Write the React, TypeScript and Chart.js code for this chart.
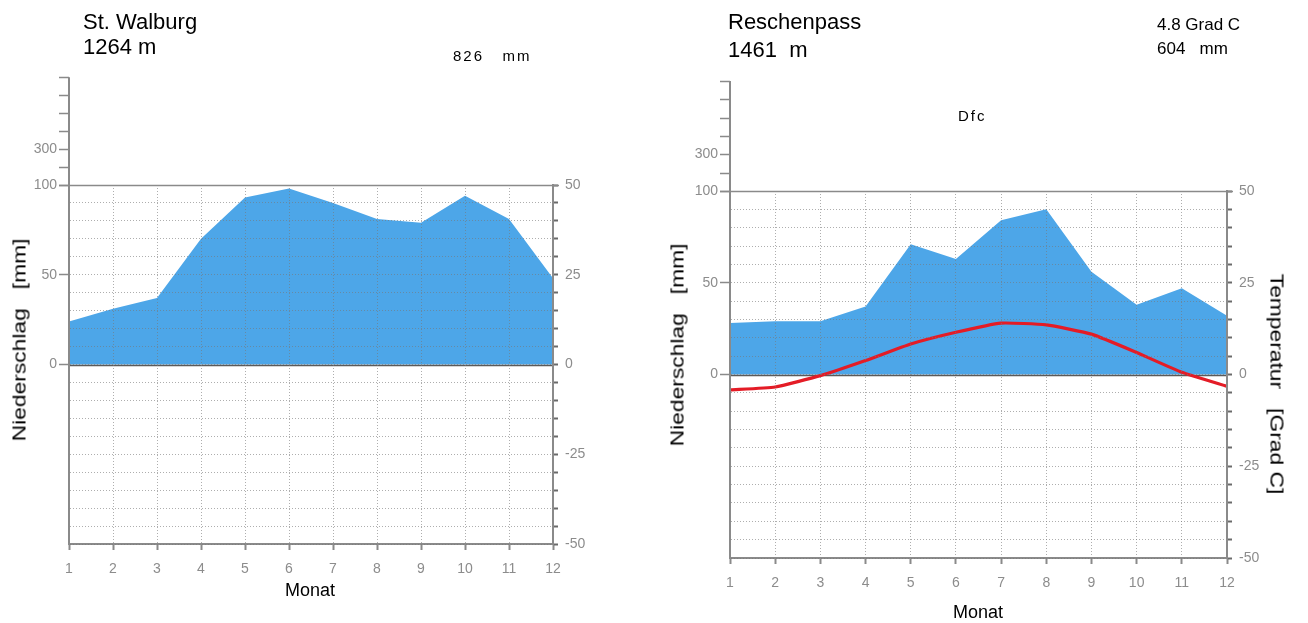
import React, { useEffect, useRef } from 'react';
import { Chart, registerables } from 'chart.js';

Chart.register(...registerables);

// ---- data ----
const months = [1, 2, 3, 4, 5, 6, 7, 8, 9, 10, 11, 12];
const walburgPrecip = [24, 31, 37, 70, 93, 98, 90, 81, 79, 94, 81, 48];
const reschenPrecip = [28, 29, 29, 37, 71, 63, 84, 90, 56, 38, 47, 32];
const reschenTemp = [-4.2, -3.4, -0.3, 3.8, 8.3, 11.5, 14.0, 13.5, 11.0, 6.0, 0.6, -3.2];
const precipTickLabels = [0, 50, 100];
const tempTickLabels = [-50, -25, 0, 25, 50];
const upperTicks = [200, 300, 400, 500, 600, 700];
const upperTickLabels = [300];

const FILL = 'rgb(77,166,232)';
const RED = 'rgb(228,28,38)';
const AXIS = '#8a8a8a';
const GRID = 'rgba(120,120,120,0.6)';
const TICKTXT = '#8c8c8c';
const FONT = "'Liberation Sans', Arial, sans-serif";

type Area = { left: number; right: number; top: number; bottom: number };

const decorPlugin = {
  id: 'decor',
  afterDatasetDraw(chart: any, args: any) {
    if (args.index !== 0) return;
    const ctx = chart.ctx;
    const y = chart.scales.y;
    const ca = chart.chartArea;
    ctx.save();
    const y0 = Math.round(y.getPixelForValue(0)) + 0.5;
    ctx.strokeStyle = '#5a5a5a';
    ctx.lineWidth = 1.5;
    ctx.beginPath();
    ctx.moveTo(ca.left, y0);
    ctx.lineTo(ca.right, y0);
    ctx.stroke();
    ctx.restore();
  },
  afterDraw(chart: any) {
    const ctx = chart.ctx;
    const y = chart.scales.y;
    const ca = chart.chartArea;
    ctx.save();
    const yTop = Math.round(y.getPixelForValue(100)) + 0.5;
    ctx.strokeStyle = AXIS;
    ctx.lineWidth = 1.5;
    ctx.beginPath();
    ctx.moveTo(ca.left - 10, yTop);
    ctx.lineTo(ca.right + 6, yTop);
    ctx.stroke();
    // compressed upper axis (100 .. 700 mm at one tenth of the scale)
    const upPix = (v: number) => y.getPixelForValue(100 + (v - 100) / 10);
    const topPix = upPix(upperTicks[upperTicks.length - 1]);
    const xl = Math.round(ca.left);
    ctx.lineWidth = 2;
    ctx.beginPath();
    ctx.moveTo(xl, topPix);
    ctx.lineTo(xl, yTop);
    ctx.stroke();
    ctx.lineWidth = 1.5;
    ctx.fillStyle = TICKTXT;
    ctx.font = `14px ${FONT}`;
    ctx.textAlign = 'right';
    ctx.textBaseline = 'middle';
    for (const v of upperTicks) {
      const py = Math.round(upPix(v)) + 0.5;
      ctx.beginPath();
      ctx.moveTo(xl - 10, py);
      ctx.lineTo(xl, py);
      ctx.stroke();
      if (upperTickLabels.includes(v)) ctx.fillText(String(v), xl - 12, py);
    }
    ctx.restore();
  },
};

function makeConfig(precip: number[], temp: number[] | null, area: Area, w: number, h: number): any {
  const leftW = area.left;
  const rightW = 40;
  const bottomH = 40;
  const datasets: any[] = [
    {
      label: 'Niederschlag',
      data: months.map((m, i) => ({ x: m, y: precip[i] })),
      yAxisID: 'y',
      borderWidth: 0,
      borderColor: FILL,
      backgroundColor: FILL,
      fill: 'origin',
      pointRadius: 0,
      tension: 0,
      order: 2,
    },
  ];
  if (temp) {
    datasets.push({
      label: 'Temperatur',
      data: months.map((m, i) => ({ x: m, y: temp[i] })),
      yAxisID: 'yT',
      borderWidth: 3.2,
      borderColor: RED,
      fill: false,
      pointRadius: 0,
      tension: 0.15,
      order: 1,
    });
  }
  return {
    type: 'line',
    data: { datasets },
    plugins: [decorPlugin],
    options: {
      responsive: false,
      animation: false,
      events: [],
      layout: {
        padding: {
          left: 0,
          top: area.top,
          right: w - area.right - rightW,
          bottom: h - area.bottom - bottomH,
        },
      },
      plugins: { legend: { display: false }, tooltip: { enabled: false }, title: { display: false } },
      scales: {
        x: {
          type: 'linear',
          position: 'bottom',
          min: 1,
          max: 12,
          afterFit: (s: any) => { s.height = bottomH; },
          ticks: { stepSize: 1, autoSkip: false, color: TICKTXT, font: { family: FONT, size: 14 }, padding: 11, maxRotation: 0 },
          grid: { color: GRID, lineWidth: 1, z: 1, tickLength: 6, tickColor: AXIS, tickWidth: 2 },
          border: { display: true, color: AXIS, width: 2, dash: [1, 2], z: 1 },
        },
        y: {
          type: 'linear',
          position: 'left',
          min: -100,
          max: 100,
          afterFit: (s: any) => { s.width = leftW; },
          ticks: {
            stepSize: 10,
            autoSkip: false,
            color: TICKTXT,
            font: { family: FONT, size: 14 },
            padding: 2,
            callback: (v: number) => (precipTickLabels.includes(v) ? String(v) : ''),
          },
          grid: {
            color: GRID,
            lineWidth: 1,
            z: 1,
            tickLength: 10,
            tickWidth: 1.5,
            tickColor: (c: any) => (c.tick && precipTickLabels.includes(c.tick.value) ? AXIS : 'rgba(0,0,0,0)'),
          },
          border: { display: true, color: AXIS, width: 2, dash: [1, 2], z: 1 },
        },
        yT: {
          type: 'linear',
          position: 'right',
          min: -50,
          max: 50,
          afterFit: (s: any) => { s.width = rightW; },
          ticks: {
            stepSize: 5,
            autoSkip: false,
            color: TICKTXT,
            font: { family: FONT, size: 14 },
            padding: 7,
            callback: (v: number) => (tempTickLabels.includes(v) ? String(v) : ''),
          },
          grid: { drawOnChartArea: false, z: 1, tickLength: 5, tickWidth: 2, tickColor: '#6a6a6a' },
          border: { display: true, color: AXIS, width: 2, z: 1 },
        },
      },
    },
  };
}

function Diagram(props: { precip: number[]; temp: number[] | null; area: Area; left: number; w: number; h: number }) {
  const ref = useRef<HTMLCanvasElement | null>(null);
  useEffect(() => {
    if (!ref.current) return;
    const chart = new Chart(ref.current, makeConfig(props.precip, props.temp, props.area, props.w, props.h));
    return () => chart.destroy();
  }, []);
  return (
    <canvas
      ref={ref}
      width={props.w}
      height={props.h}
      style={{ position: 'absolute', left: props.left, top: 0, width: props.w, height: props.h }}
    />
  );
}

const txt = (style: React.CSSProperties, content: string) => (
  <div style={{ position: 'absolute', whiteSpace: 'pre', color: '#000', fontFamily: FONT, lineHeight: 1, ...style }}>{content}</div>
);

const rot = (cx: number, cy: number, deg: number, size: number, stretch: number, content: string) => (
  <div
    style={{
      position: 'absolute',
      left: cx,
      top: cy,
      transform: `translate(-50%, -50%) rotate(${deg}deg) scaleX(${stretch})`,
      whiteSpace: 'pre',
      fontFamily: FONT,
      fontSize: size,
      lineHeight: 1,
      color: '#000',
    }}
  >
    {content}
  </div>
);

export default function App() {
  return (
    <div style={{ position: 'absolute', left: 0, top: 0, width: 1308, height: 623, background: '#fff', overflow: 'hidden' }}>
      <Diagram precip={walburgPrecip} temp={null} area={{ left: 69, right: 553, top: 185, bottom: 544 }} left={0} w={654} h={623} />
      <Diagram precip={reschenPrecip} temp={reschenTemp} area={{ left: 76, right: 573, top: 191, bottom: 558 }} left={654} w={654} h={623} />

      {txt({ left: 83, top: 11, fontSize: 22 }, 'St. Walburg')}
      {txt({ left: 83, top: 36, fontSize: 22 }, '1264 m')}
      {txt({ left: 453, top: 48, fontSize: 15, letterSpacing: 2 }, '826   mm')}
      {rot(19, 340, -90, 19, 1.2, 'Niederschlag   [mm]')}
      {txt({ left: 285, top: 581, fontSize: 18 }, 'Monat')}

      {txt({ left: 728, top: 11, fontSize: 22 }, 'Reschenpass')}
      {txt({ left: 728, top: 39, fontSize: 22 }, '1461  m')}
      {txt({ left: 1157, top: 16, fontSize: 17 }, '4.8 Grad C')}
      {txt({ left: 1157, top: 40, fontSize: 17 }, '604   mm')}
      {txt({ left: 958, top: 108, fontSize: 15, letterSpacing: 2 }, 'Dfc')}
      {rot(677, 345, -90, 19, 1.2, 'Niederschlag   [mm]')}
      {rot(1277, 384, 90, 19, 1.2, 'Temperatur   [Grad C]')}
      {txt({ left: 953, top: 603, fontSize: 18 }, 'Monat')}
    </div>
  );
}
